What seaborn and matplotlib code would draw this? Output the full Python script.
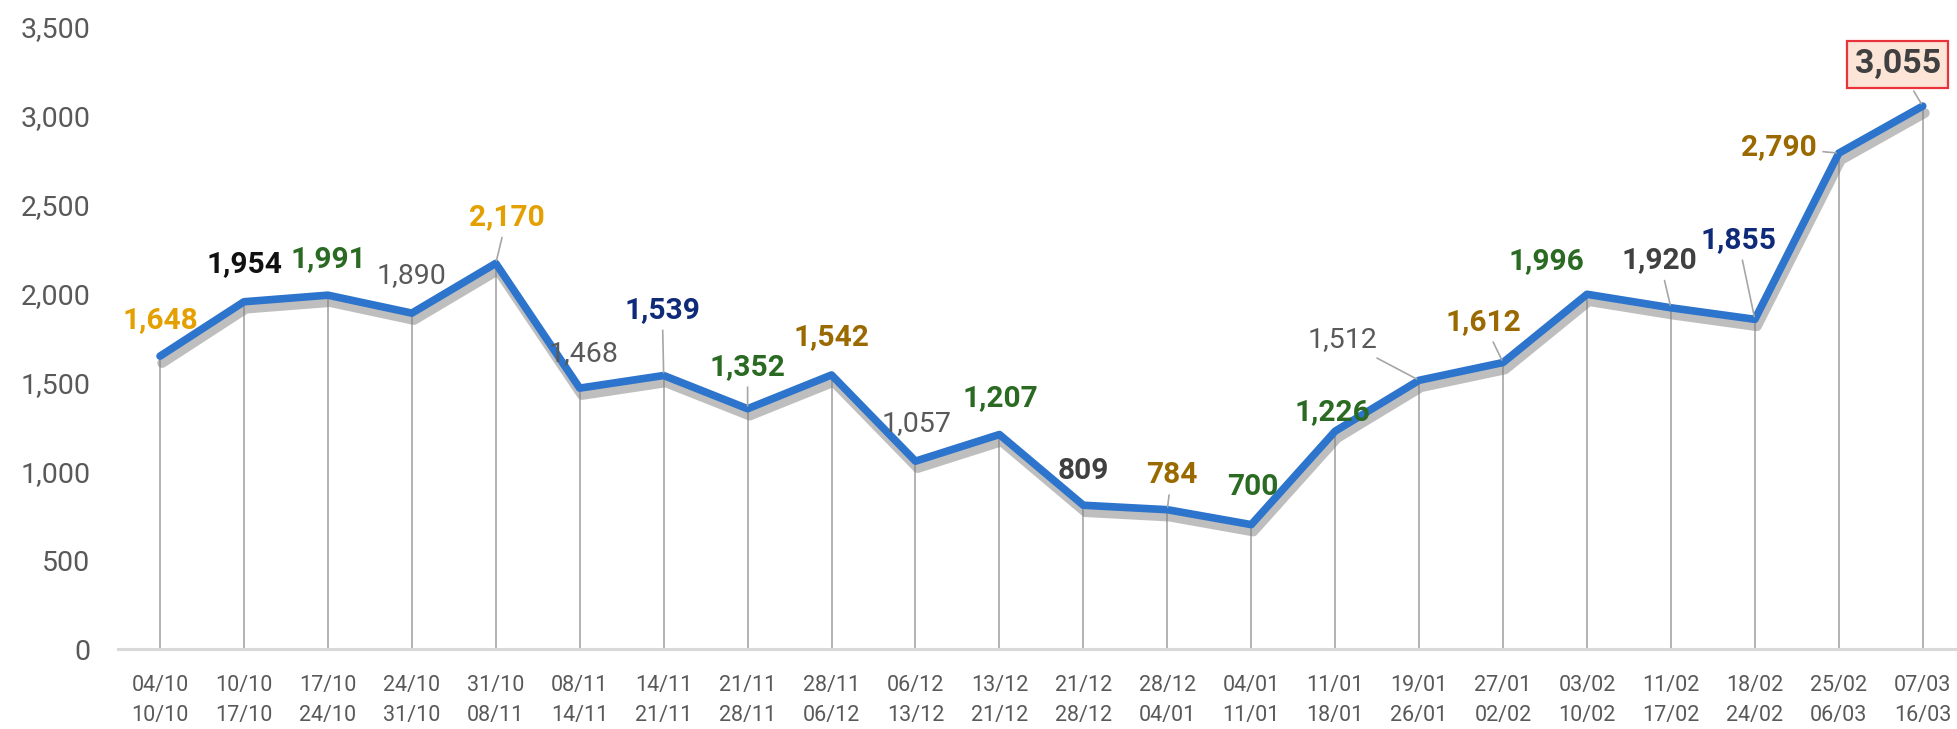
import matplotlib
matplotlib.use("Agg")
import matplotlib.pyplot as plt
import matplotlib.patheffects as pe
from matplotlib.ticker import FuncFormatter
import seaborn as sns

# -----------------------------
# Data
# -----------------------------
week_start = ["04/10", "10/10", "17/10", "24/10", "31/10", "08/11", "14/11", "21/11",
              "28/11", "06/12", "13/12", "21/12", "28/12", "04/01", "11/01", "19/01",
              "27/01", "03/02", "11/02", "18/02", "25/02", "07/03"]
week_end = ["10/10", "17/10", "24/10", "31/10", "08/11", "14/11", "21/11", "28/11",
            "06/12", "13/12", "21/12", "28/12", "04/01", "11/01", "18/01", "26/01",
            "02/02", "10/02", "17/02", "24/02", "06/03", "16/03"]
cases = [1648, 1954, 1991, 1890, 2170, 1468, 1539, 1352, 1542, 1057, 1207,
         809, 784, 700, 1226, 1512, 1612, 1996, 1920, 1855, 2790, 3055]

# -----------------------------
# Label styling (colour, bold, offset in points, leader line)
# -----------------------------
GOLD = "#E3A000"
BROWN = "#9A6A00"
GREEN = "#2A6A22"
NAVY = "#0E2A78"
GRAY = "#595959"
DARK = "#404040"
label_colors = [GOLD, "#111111", GREEN, GRAY, GOLD, GRAY, NAVY, GREEN, BROWN, GRAY, GREEN,
                DARK, BROWN, GREEN, GREEN, GRAY, BROWN, GREEN, DARK, NAVY, BROWN, DARK]
label_bold = [True, True, True, False, True, False, True, True, True, False, True,
              True, True, True, True, False, True, True, True, True, True, True]
label_offsets = [(0, 26), (0, 27), (0, 26), (0, 27), (8, 33), (3, 25), (-1, 47), (0, 30),
                 (0, 27), (1, 27), (1, 26), (0, 25), (3, 25), (1, 27), (-2, 14), (-55, 29),
                 (-14, 29), (-29, 24), (-8, 34), (-12, 57), (-43, 4), (-18, 30)]
leaders = [False, False, False, False, True, False, True, True, False, False, False,
           False, True, False, False, True, True, False, True, True, True, True]

FONT = ["Roboto", "DejaVu Sans"]

sns.set_theme(style="white")
plt.rcParams["font.family"] = FONT

fig = plt.figure(figsize=(19.58, 7.29), dpi=100)
ax = fig.add_axes([0.0603, 0.1097, 0.9397, 0.8533])

x = list(range(len(cases)))

# drop lines
ax.vlines(x, 0, cases, color="#A6A6A6", linewidth=1.2, zorder=1)

sns.lineplot(x=x, y=cases, ax=ax, color="#2C74CC", linewidth=5.5, zorder=3,
             path_effects=[pe.SimpleLineShadow(offset=(1.5, -5), shadow_color="#7F7F7F",
                                               alpha=0.5, linewidth=7),
                           pe.Normal()])

# data labels
for i, v in enumerate(cases):
    dx, dy = label_offsets[i]
    bold = label_bold[i]
    kw = dict(textcoords="offset points", xytext=(dx, dy), ha="center", va="center",
              color=label_colors[i], fontsize=21.5 if bold else 20.5,
              fontweight="bold" if bold else "normal", zorder=5)
    if leaders[i]:
        kw["arrowprops"] = dict(arrowstyle="-", color="#A6A6A6", lw=1.2,
                                shrinkA=2, shrinkB=2)
    if i == len(cases) - 1:
        kw["fontsize"] = 24.5
        kw["bbox"] = dict(boxstyle="square,pad=0.22", facecolor="#FCE4D6",
                          edgecolor="#E8333A", linewidth=1.6)
    ax.annotate(f"{v:,}", xy=(i, v), **kw)

# axes
ax.set_xlim(-0.5, 21.42)
ax.set_ylim(0, 3500)
ax.set_yticks(range(0, 3501, 500))
ax.yaxis.set_major_formatter(FuncFormatter(lambda val, _: f"{int(val):,}"))
ax.set_xticks(x)
ax.set_xticklabels([f"{a}\n{b}" for a, b in zip(week_start, week_end)], linespacing=1.55)
ax.tick_params(axis="x", length=0, pad=19, labelsize=15.5, labelcolor=GRAY)
ax.tick_params(axis="y", length=0, pad=20, labelsize=20.5, labelcolor=GRAY)

for side in ["top", "right", "left"]:
    ax.spines[side].set_visible(False)
ax.spines["bottom"].set_color("#D9D9D9")
ax.spines["bottom"].set_linewidth(2.2)
ax.grid(False)

plt.savefig("out.png", dpi=100)
plt.close()
